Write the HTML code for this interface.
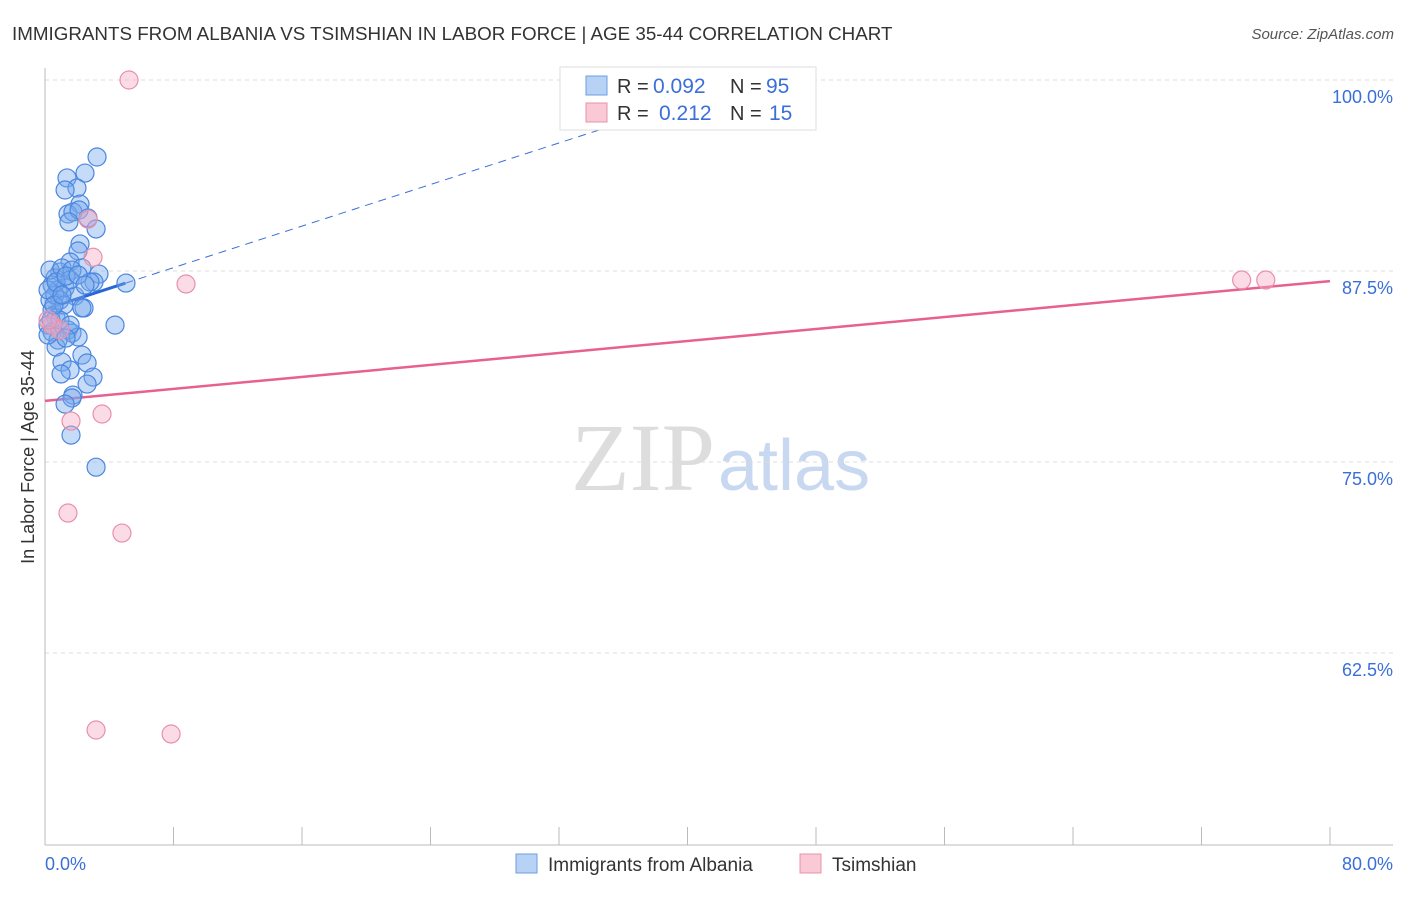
<!DOCTYPE html>
<html><head><meta charset="utf-8"><style>
body{margin:0;background:#fff;font-family:"Liberation Sans",sans-serif}
</style></head><body>
<svg width="1406" height="892" xmlns="http://www.w3.org/2000/svg">
<text x="12" y="40" font-size="18.8" fill="#333">IMMIGRANTS FROM ALBANIA VS TSIMSHIAN IN LABOR FORCE | AGE 35-44 CORRELATION CHART</text>
<text x="1394" y="39" font-size="15" fill="#555" font-style="italic" text-anchor="end">Source: ZipAtlas.com</text>
<text x="715" y="490" font-size="96" fill="#ddd" text-anchor="end" font-family="Liberation Serif">ZIP</text>
<text x="718" y="490" font-size="72" fill="#c8d8f0">atlas</text>
<g id="grid"></g>
<g id="axes"></g>
<g id="lines"></g>
<g id="pts"></g>
<text transform="translate(34,457) rotate(-90)" font-size="18" fill="#333" text-anchor="middle">In Labor Force | Age 35-44</text>
<text x="45" y="870" font-size="18" fill="#3a6fd8">0.0%</text>
<text x="1393" y="870" font-size="18" fill="#3a6fd8" text-anchor="end">80.0%</text>
<g>
<rect x="560" y="67" width="256" height="63" fill="#fff" stroke="#ddd"/>
<rect x="586" y="76" width="21" height="19" fill="#b8d2f5" stroke="#6d9de0"/>
<rect x="586" y="103" width="21" height="19" fill="#f9c9d6" stroke="#e890aa"/>
<text x="617" y="93" font-size="20" fill="#333">R =</text>
<text x="653" y="93" font-size="21" fill="#3a6fd8">0.092</text>
<text x="730" y="93" font-size="20" fill="#333">N =</text>
<text x="766" y="93" font-size="21" fill="#3a6fd8">95</text>
<text x="617" y="120" font-size="20" fill="#333">R =</text>
<text x="659" y="120" font-size="21" fill="#3a6fd8">0.212</text>
<text x="730" y="120" font-size="20" fill="#333">N =</text>
<text x="769" y="120" font-size="21" fill="#3a6fd8">15</text>
</g>
<g>
<rect x="516" y="854" width="21" height="19" fill="#b8d2f5" stroke="#6d9de0"/>
<text x="548" y="871" font-size="19" fill="#333">Immigrants from Albania</text>
<rect x="800" y="854" width="21" height="19" fill="#f9c9d6" stroke="#e890aa"/>
<text x="832" y="871" font-size="19" fill="#333">Tsimshian</text>
</g>
</svg>
<script>
const yTicks=[100,87.5,75,62.5];
const yTickLabels=["100.0%","87.5%","75.0%","62.5%"];
const xTicks=[0,8,16,24,32,40,48,56,64,72,80];
const blueX=[3.24,2.49,1.37,1.99,1.25,2.18,1.43,1.74,2.12,1.49,2.68,3.18,2.18,2.06,1.56,2.30,3.36,5.04,3.05,0.93,0.62,0.44,0.81,1.25,1.87,2.43,2.30,0.93,0.31,0.44,0.69,0.19,0.44,1.43,1.68,2.06,4.36,0.81,0.69,2.30,1.06,2.62,1.56,2.99,1.0,2.62,1.74,1.68,1.25,1.62,3.18,0.31,1.06,1.68,0.62,1.18,2.8,1.56,0.19,0.69,1.31,2.06,0.37,0.93,1.56,1.31,0.19,0.56,1.06,2.49];
const blueY=[94.96,93.91,93.59,92.93,92.8,91.88,91.23,91.36,91.49,90.71,90.97,90.25,89.27,88.81,88.09,87.7,87.3,86.71,86.78,87.43,87.04,86.58,86.26,86.39,85.86,85.08,85.08,85.6,85.6,84.95,84.42,83.96,83.5,83.64,83.44,83.18,83.96,82.98,82.52,82.0,81.54,81.48,81.02,80.56,80.76,80.1,79.38,79.19,78.79,76.76,74.66,87.56,87.7,87.56,85.93,85.27,86.78,86.91,86.26,86.78,87.17,87.24,84.29,84.29,83.96,83.11,83.31,85.27,85.93,86.58];
const pinkX=[5.23,2.68,2.99,8.78,74.5,76.0,0.44,0.93,0.19,3.55,1.62,1.43,4.79,3.18,7.85];
const pinkY=[100,90.9,88.4,86.65,86.91,86.91,83.96,83.64,84.29,78.14,77.68,71.66,70.35,57.46,57.2];
const blueLine=[85.0,0.34];
const pinkLine=[79.0,0.098];
const NS="http://www.w3.org/2000/svg";
const xs=v=>45+v/80*1285, ys=v=>80+(100-v)/12.5*191;
function mk(t,a,p){const e=document.createElementNS(NS,t);for(const k in a)e.setAttribute(k,a[k]);document.getElementById(p).appendChild(e);return e;}
yTicks.forEach((t,i)=>{
 const g=mk('line',{x1:45,x2:1393,y1:ys(t),y2:ys(t),stroke:'#ddd','stroke-dasharray':'4,4'},'grid');
 
 
 const l=mk('text',{x:1393,y:ys(t)+23,'font-size':18,fill:'#3a6fd8','text-anchor':'end'},'grid');
 l.textContent=yTickLabels[i];
 
 
});
const ya=mk('line',{x1:45,x2:45,y1:68,y2:845,stroke:'#bbb'},'axes');


const xa=mk('line',{x1:45,x2:1393,y1:845,y2:845,stroke:'#bbb'},'axes');


xTicks.forEach(t=>{const e=mk('line',{x1:xs(t),x2:xs(t),y1:827,y2:845,stroke:'#bbb'},'axes');
 
 });
const bf=x=>blueLine[0]+blueLine[1]*x, pf=x=>pinkLine[0]+pinkLine[1]*x;
let e=mk('line',{x1:xs(5),y1:ys(bf(5)),x2:xs(45),y2:ys(bf(45)),stroke:'#3a6fd8','stroke-width':1,'stroke-dasharray':'8,6'},'lines');


e=mk('line',{x1:xs(0.2),y1:ys(bf(0.2)),x2:xs(5),y2:ys(bf(5)),stroke:'#2a66d8','stroke-width':3},'lines');


e=mk('line',{x1:xs(0),y1:ys(pf(0)),x2:xs(80),y2:ys(pf(80)),stroke:'#e8608f','stroke-width':2.5},'lines');


blueX.forEach((x,i)=>{const c=mk('circle',{cx:xs(x),cy:ys(blueY[i]),r:9,fill:'rgba(120,170,235,0.42)',stroke:'#4a86e0','stroke-width':1.2},'pts');
 
 });
pinkX.forEach((x,i)=>{const c=mk('circle',{cx:xs(x),cy:ys(pinkY[i]),r:9,fill:'rgba(245,170,195,0.42)',stroke:'#e890aa','stroke-width':1.2},'pts');
 
 });
</script>
</body></html>
